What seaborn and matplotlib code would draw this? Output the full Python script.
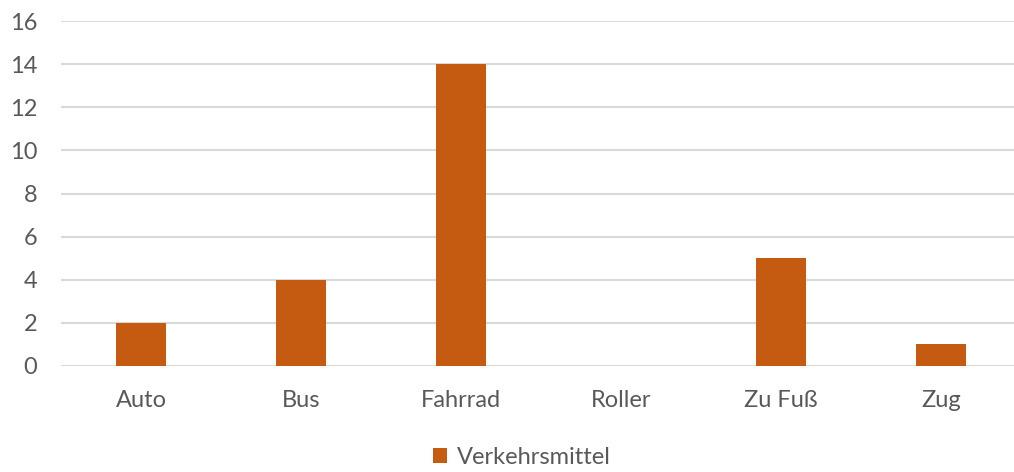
import matplotlib
matplotlib.use("Agg")
import matplotlib.pyplot as plt
from matplotlib.patches import Patch
import seaborn as sns
import pandas as pd

categories = ["Auto", "Bus", "Fahrrad", "Roller", "Zu Fuß", "Zug"]
values = [2, 4, 14, 0, 5, 1]
series_name = "Verkehrsmittel"
y_ticks = [0, 2, 4, 6, 8, 10, 12, 14, 16]

bar_color = "#C55A11"
text_color = "#595959"
grid_color = "#D9D9D9"

sns.set_theme(style="white")
plt.rcParams["font.family"] = ["Lato", "DejaVu Sans"]

df = pd.DataFrame({"Kategorie": categories, "Anzahl": values})

fig = plt.figure(figsize=(10.14, 4.72), dpi=100)
W, H = 1014, 472
ax = fig.add_axes([61 / W, 1 - 366 / H, 960 / W, 345 / H])

sns.barplot(data=df, x="Kategorie", y="Anzahl", color=bar_color,
            saturation=1, width=0.3125, linewidth=0, ax=ax, zorder=3)

ax.set_ylim(0, 16)
ax.set_yticks(y_ticks)
ax.set_xlim(-0.5, len(categories) - 0.5)
ax.yaxis.grid(True, color=grid_color, linewidth=1.5, zorder=0)
ax.xaxis.grid(False)
for s in ax.spines.values():
    s.set_visible(False)
ax.set_xlabel("")
ax.set_ylabel("")
ax.tick_params(axis="y", length=0, pad=17, labelsize=17, labelcolor=text_color)
ax.tick_params(axis="x", length=0, pad=17, labelsize=17, labelcolor=text_color)

handle = Patch(facecolor=bar_color, edgecolor="none")
fig.legend([handle], [series_name], loc="center", bbox_to_anchor=(522 / W, 1 - 457 / H),
           frameon=False, fontsize=17, labelcolor=text_color,
           handlelength=0.6, handleheight=0.6, handletextpad=0.4)

fig.savefig("out.png", dpi=100)
